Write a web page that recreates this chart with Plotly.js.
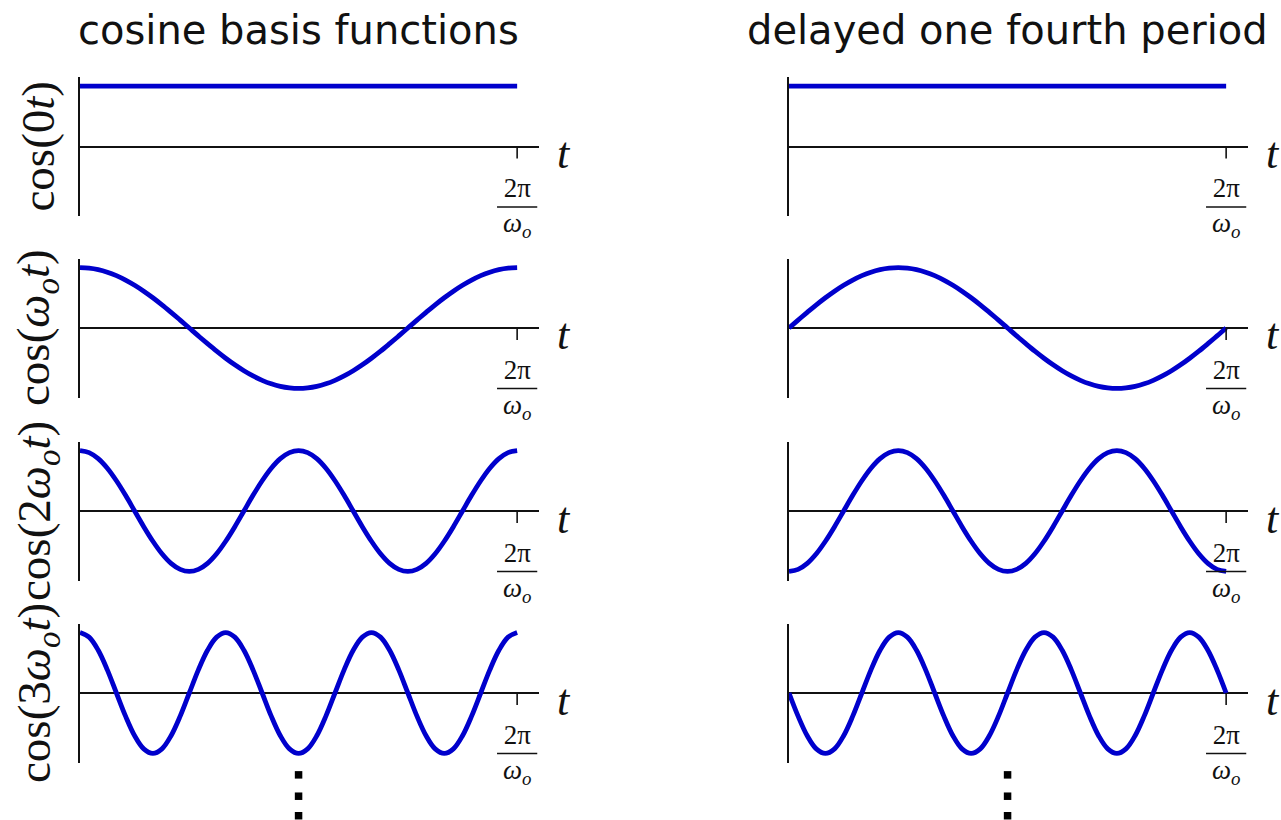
<!DOCTYPE html>
<html><head><meta charset="utf-8">
<script src="https://cdn.plot.ly/plotly-3.0.1.min.js"></script>
<style>html,body{margin:0;padding:0;background:#fff}#chart{width:1281px;height:820px}</style>
</head><body><div id="chart"></div>
<script>
// time in units of one period 2π/ω_o
const t = [0, 0.0208, 0.0417, 0.0625, 0.0833, 0.1042, 0.125, 0.1458, 0.1667, 0.1875, 0.2083, 0.2292,
           0.25, 0.2708, 0.2917, 0.3125, 0.3333, 0.3542, 0.375, 0.3958, 0.4167, 0.4375, 0.4583, 0.4792,
           0.5, 0.5208, 0.5417, 0.5625, 0.5833, 0.6042, 0.625, 0.6458, 0.6667, 0.6875, 0.7083, 0.7292,
           0.75, 0.7708, 0.7917, 0.8125, 0.8333, 0.8542, 0.875, 0.8958, 0.9167, 0.9375, 0.9583, 0.9792, 1];

// left column: cosine basis functions
const cos0t = [1, 1, 1, 1, 1, 1, 1, 1, 1, 1, 1, 1, 1, 1, 1, 1, 1, 1, 1, 1, 1, 1, 1, 1, 1,
               1, 1, 1, 1, 1, 1, 1, 1, 1, 1, 1, 1, 1, 1, 1, 1, 1, 1, 1, 1, 1, 1, 1, 1];
const cos1t = [1, 0.991, 0.966, 0.924, 0.866, 0.793, 0.707, 0.609, 0.5, 0.383, 0.259, 0.131,
               0, -0.131, -0.259, -0.383, -0.5, -0.609, -0.707, -0.793, -0.866, -0.924, -0.966, -0.991,
               -1, -0.991, -0.966, -0.924, -0.866, -0.793, -0.707, -0.609, -0.5, -0.383, -0.259, -0.131,
               0, 0.131, 0.259, 0.383, 0.5, 0.609, 0.707, 0.793, 0.866, 0.924, 0.966, 0.991, 1];
const cos2t = [1, 0.966, 0.866, 0.707, 0.5, 0.259, 0, -0.259, -0.5, -0.707, -0.866, -0.966,
               -1, -0.966, -0.866, -0.707, -0.5, -0.259, 0, 0.259, 0.5, 0.707, 0.866, 0.966,
               1, 0.966, 0.866, 0.707, 0.5, 0.259, 0, -0.259, -0.5, -0.707, -0.866, -0.966,
               -1, -0.966, -0.866, -0.707, -0.5, -0.259, 0, 0.259, 0.5, 0.707, 0.866, 0.966, 1];
const cos3t = [1, 0.924, 0.707, 0.383, 0, -0.383, -0.707, -0.924, -1, -0.924, -0.707, -0.383,
               0, 0.383, 0.707, 0.924, 1, 0.924, 0.707, 0.383, 0, -0.383, -0.707, -0.924,
               -1, -0.924, -0.707, -0.383, 0, 0.383, 0.707, 0.924, 1, 0.924, 0.707, 0.383,
               0, -0.383, -0.707, -0.924, -1, -0.924, -0.707, -0.383, 0, 0.383, 0.707, 0.924, 1];

// right column: delayed one fourth period
const del0t = [1, 1, 1, 1, 1, 1, 1, 1, 1, 1, 1, 1, 1, 1, 1, 1, 1, 1, 1, 1, 1, 1, 1, 1, 1,
               1, 1, 1, 1, 1, 1, 1, 1, 1, 1, 1, 1, 1, 1, 1, 1, 1, 1, 1, 1, 1, 1, 1, 1];
const del1t = [0, 0.131, 0.259, 0.383, 0.5, 0.609, 0.707, 0.793, 0.866, 0.924, 0.966, 0.991,
               1, 0.991, 0.966, 0.924, 0.866, 0.793, 0.707, 0.609, 0.5, 0.383, 0.259, 0.131,
               0, -0.131, -0.259, -0.383, -0.5, -0.609, -0.707, -0.793, -0.866, -0.924, -0.966, -0.991,
               -1, -0.991, -0.966, -0.924, -0.866, -0.793, -0.707, -0.609, -0.5, -0.383, -0.259, -0.131, 0];
const del2t = [-1, -0.966, -0.866, -0.707, -0.5, -0.259, 0, 0.259, 0.5, 0.707, 0.866, 0.966,
               1, 0.966, 0.866, 0.707, 0.5, 0.259, 0, -0.259, -0.5, -0.707, -0.866, -0.966,
               -1, -0.966, -0.866, -0.707, -0.5, -0.259, 0, 0.259, 0.5, 0.707, 0.866, 0.966,
               1, 0.966, 0.866, 0.707, 0.5, 0.259, 0, -0.259, -0.5, -0.707, -0.866, -0.966, -1];
const del3t = [0, -0.383, -0.707, -0.924, -1, -0.924, -0.707, -0.383, 0, 0.383, 0.707, 0.924,
               1, 0.924, 0.707, 0.383, 0, -0.383, -0.707, -0.924, -1, -0.924, -0.707, -0.383,
               0, 0.383, 0.707, 0.924, 1, 0.924, 0.707, 0.383, 0, -0.383, -0.707, -0.924,
               -1, -0.924, -0.707, -0.383, 0, 0.383, 0.707, 0.924, 1, 0.924, 0.707, 0.383, 0];

const columnSeries = [[cos0t, cos1t, cos2t, cos3t], [del0t, del1t, del2t, del3t]];
const columnTitles = ["cosine basis functions", "delayed one fourth period"];
const rowLabels = ["cos(0<i>t</i>)", "cos(<i>ω</i><sub><i>o</i></sub><i>t</i>)",
                   "cos(2<i>ω</i><sub><i>o</i></sub><i>t</i>)", "cos(3<i>ω</i><sub><i>o</i></sub><i>t</i>)"];
const tickValue = 1;            // t = 2π/ω_o
const tickLabel = "2π<br><i>ω</i><sub><i>o</i></sub>";
const axisName = "<i>t</i>";
// vertical ellipsis below each column
const dotsX = [0.5, 0.5, 0.5];
const dotsY = [0.74, 0.39, 0.07];

// layout geometry (style)
const W = 1281, H = 820;
const colDomains = [[80 / W, 539 / W], [789 / W, 1248 / W]];
const xRange = [0, 1.05];
const rowCenters = [146.5, 328, 511, 693];
const halfH = 69.5;
const blue = "#0000cc";
const ink = "#111";
const serif = "'Liberation Serif', 'Times New Roman', serif";

const data = [], shapes = [], annotations = [];
const layout = {
  width: W, height: H, margin: {l: 0, r: 0, t: 0, b: 0},
  paper_bgcolor: "#fff", plot_bgcolor: "rgba(0,0,0,0)", showlegend: false
};
const hidden = {showgrid: false, zeroline: false, showline: false, showticklabels: false, ticks: "", fixedrange: true};

for (let c = 0; c < 2; c++) {
  for (let r = 0; r < 4; r++) {
    const idx = c * 4 + r + 1;
    const sfx = idx === 1 ? "" : String(idx);
    const xn = "x" + sfx, yn = "y" + sfx;
    layout["xaxis" + sfx] = Object.assign({}, hidden, {domain: colDomains[c], range: xRange, anchor: yn});
    layout["yaxis" + sfx] = Object.assign({}, hidden, {
      domain: [1 - (rowCenters[r] + halfH) / H, 1 - (rowCenters[r] - halfH) / H],
      range: [-1.15, 1.15], anchor: xn,
      zeroline: true, zerolinecolor: ink, zerolinewidth: 2,
      showline: true, linecolor: ink, linewidth: 2, layer: "below traces"});

    data.push({x: t, y: columnSeries[c][r], xaxis: xn, yaxis: yn, type: "scatter", mode: "lines",
      line: {color: blue, width: 4.8, shape: "spline", smoothing: 1}, hoverinfo: "skip", cliponaxis: false});

    // tick mark at 2π/ω_o
    shapes.push({type: "line", xref: xn, yref: yn, x0: tickValue, x1: tickValue, y0: 0, y1: -0.2,
      line: {color: ink, width: 1.6}});
    // fraction bar of the tick label
    shapes.push({type: "line", xref: xn, yref: yn, x0: tickValue - 0.046, x1: tickValue + 0.046, y0: -1.0, y1: -1.0,
      line: {color: ink, width: 1.4}});
    annotations.push({xref: xn, yref: yn, x: tickValue, y: -1.0, yshift: -1, text: tickLabel, showarrow: false,
      font: {family: serif, size: 27, color: ink}, xanchor: "center", yanchor: "middle", align: "center"});
    // axis name "t"
    annotations.push({xref: xn, yref: yn, x: xRange[1], y: 0, xshift: 25, yshift: -7, text: axisName, showarrow: false,
      font: {family: serif, size: 44, color: ink}, xanchor: "center", yanchor: "middle"});

    if (c === 0) {
      annotations.push({xref: "paper", yref: yn + " domain", x: 37 / W, y: 0.5, text: rowLabels[r],
        textangle: -90, showarrow: false, font: {family: serif, size: 47, color: ink},
        xanchor: "center", yanchor: "middle"});
    }
    if (r === 0) {
      annotations.push({xref: xn, yref: "paper", x: 0.5, y: 1 - 30 / H, text: columnTitles[c],
        showarrow: false, font: {family: "'DejaVu Sans', sans-serif", size: 40, color: ink},
        xanchor: "center", yanchor: "middle"});
    }
  }
  // ellipsis subplot under each column
  const idx = 9 + c;
  layout["xaxis" + idx] = Object.assign({}, hidden, {domain: colDomains[c], range: xRange, anchor: "y" + idx});
  layout["yaxis" + idx] = Object.assign({}, hidden, {domain: [0, 61 / H], range: [0, 1], anchor: "x" + idx});
  data.push({x: dotsX, y: dotsY, xaxis: "x" + idx, yaxis: "y" + idx, type: "scatter", mode: "markers",
    marker: {symbol: "square", size: 7.5, color: "#000"}, hoverinfo: "skip", cliponaxis: false});
}
layout.shapes = shapes;
layout.annotations = annotations;
Plotly.newPlot("chart", data, layout, {displayModeBar: false, staticPlot: true});
</script></body></html>
